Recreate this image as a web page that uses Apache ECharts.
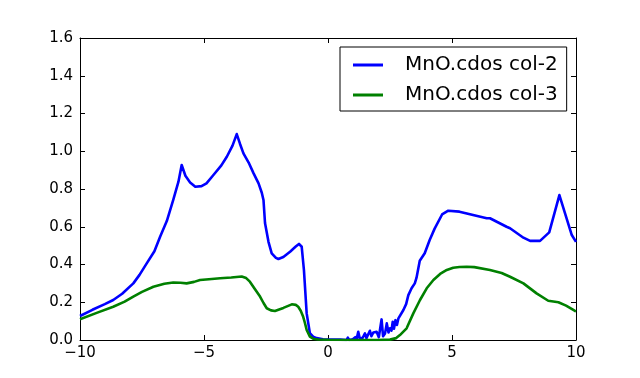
<!DOCTYPE html>
<html>
<head>
<meta charset="utf-8">
<script src="https://cdn.jsdelivr.net/npm/echarts@6/dist/echarts.min.js"></script>
<style>html,body{margin:0;padding:0;background:#fff;}#c{width:640px;height:378px;}</style>
</head>
<body>
<div id="c"></div>
<script>
var seriesNames = ['MnO.cdos col-2', 'MnO.cdos col-3'];
var xTicks = [-10, -5, 0, 5, 10];
var yTicks = [0, 0.2, 0.4, 0.6, 0.8, 1.0, 1.2, 1.4, 1.6];

var col2X = [-10, -9.5, -9, -8.66, -8.3, -7.85, -7.6, -7.31, -7.0, -6.77, -6.5, -6.24, -6.03, -5.9, -5.75, -5.56, -5.35, -5.1, -4.9, -4.62, -4.3, -4.08, -3.85, -3.68, -3.55, -3.41, -3.2, -3.0, -2.8, -2.67, -2.6, -2.54, -2.4, -2.27, -2.1, -2.0, -1.8, -1.53, -1.3, -1.17, -1.06, -0.97, -0.86, -0.73, -0.6, -0.46, -0.2, 0.0, 0.5, 0.75, 0.8, 0.85, 1.0, 1.1, 1.15, 1.22, 1.28, 1.4, 1.49, 1.55, 1.69, 1.75, 1.83, 1.96, 2.05, 2.16, 2.22, 2.3, 2.37, 2.44, 2.5, 2.56, 2.61, 2.66, 2.72, 2.78, 2.84, 2.9, 3.04, 3.15, 3.24, 3.37, 3.5, 3.57, 3.7, 3.9, 4.1, 4.3, 4.6, 4.85, 5.3, 5.85, 6.4, 6.53, 7.2, 7.34, 7.88, 8.15, 8.55, 8.92, 9.33, 9.83, 10];
var col2Y = [0.127, 0.16, 0.19, 0.212, 0.245, 0.30, 0.345, 0.406, 0.47, 0.547, 0.63, 0.742, 0.839, 0.927, 0.87, 0.835, 0.812, 0.815, 0.83, 0.874, 0.925, 0.971, 1.03, 1.091, 1.04, 0.989, 0.94, 0.883, 0.83, 0.78, 0.74, 0.62, 0.52, 0.459, 0.435, 0.429, 0.44, 0.468, 0.495, 0.509, 0.494, 0.37, 0.141, 0.036, 0.018, 0.01, 0.004, 0.002, 0.002, 0.0, 0.012, 0.0, 0.004, 0.015, 0.002, 0.044, 0.008, 0.012, 0.035, 0.01, 0.049, 0.02, 0.04, 0.044, 0.015, 0.109, 0.02, 0.035, 0.088, 0.04, 0.062, 0.05, 0.097, 0.06, 0.105, 0.08, 0.115, 0.11, 0.159, 0.19, 0.238, 0.274, 0.3, 0.33, 0.42, 0.46, 0.53, 0.59, 0.665, 0.685, 0.68, 0.662, 0.645, 0.645, 0.60, 0.592, 0.542, 0.525, 0.525, 0.57, 0.768, 0.556, 0.52];

var col3X = [-10, -9.3, -8.66, -8.2, -7.85, -7.5, -7.04, -6.6, -6.24, -5.95, -5.7, -5.4, -5.16, -4.8, -4.35, -3.9, -3.48, -3.3, -3.15, -2.95, -2.74, -2.6, -2.47, -2.3, -2.14, -1.8, -1.46, -1.3, -1.2, -1.1, -1.0, -0.93, -0.86, -0.73, -0.6, -0.4, 0.0, 1.0, 2.0, 2.5, 2.75, 2.9, 3.17, 3.44, 3.71, 3.98, 4.25, 4.52, 4.79, 5.05, 5.3, 5.59, 5.9, 6.53, 7.0, 7.34, 7.88, 8.41, 8.88, 9.29, 9.6, 9.96, 10];
var col3Y = [0.11, 0.145, 0.176, 0.203, 0.23, 0.255, 0.282, 0.298, 0.305, 0.303, 0.30, 0.308, 0.318, 0.322, 0.327, 0.331, 0.336, 0.328, 0.309, 0.27, 0.23, 0.196, 0.168, 0.157, 0.154, 0.17, 0.189, 0.186, 0.176, 0.155, 0.123, 0.09, 0.053, 0.018, 0.007, 0.003, 0.001, 0.0, 0.0, 0.002, 0.01, 0.026, 0.062, 0.141, 0.212, 0.274, 0.318, 0.35, 0.371, 0.383, 0.387, 0.388, 0.386, 0.371, 0.355, 0.335, 0.30, 0.247, 0.208, 0.2, 0.182, 0.154, 0.152];

function pairs(xs, ys) { return xs.map(function (x, i) { return [x, ys[i]]; }); }
function minusFmt(v) { return String(v).replace('-', '\u2212'); }

var chart = echarts.init(document.getElementById('c'), null, { renderer: 'canvas' });
var font = 'DejaVu Sans';
var axisCommon = {
  axisLine: { show: true, onZero: false, lineStyle: { color: '#000', width: 1 } },
  axisTick: { show: true, inside: true, length: 5, lineStyle: { color: '#000', width: 1 } },
  splitLine: { show: false }
};
chart.setOption({
  animation: false,
  backgroundColor: '#fff',
  grid: { left: 80, right: 64, top: 38, bottom: 38, containLabel: false },
  xAxis: [
    Object.assign({
      type: 'value', min: xTicks[0], max: xTicks[xTicks.length - 1], interval: 5, position: 'bottom',
      axisLabel: { color: '#000', fontFamily: font, fontSize: 15, margin: 6, formatter: minusFmt }
    }, axisCommon),
    Object.assign({
      type: 'value', min: xTicks[0], max: xTicks[xTicks.length - 1], interval: 5, position: 'top',
      axisLabel: { show: false }
    }, axisCommon)
  ],
  yAxis: [
    Object.assign({
      type: 'value', min: yTicks[0], max: yTicks[yTicks.length - 1], interval: 0.2, position: 'left',
      axisLabel: { color: '#000', fontFamily: font, fontSize: 15, margin: 7, formatter: function (v) { return v.toFixed(1); } }
    }, axisCommon),
    Object.assign({
      type: 'value', min: yTicks[0], max: yTicks[yTicks.length - 1], interval: 0.2, position: 'right',
      axisLabel: { show: false }
    }, axisCommon)
  ],
  legend: {
    left: 340, top: 47,
    orient: 'vertical',
    backgroundColor: '#fff',
    borderColor: '#000', borderWidth: 1, borderRadius: 0,
    padding: [8, 9, 6, 13],
    itemGap: 10,
    itemWidth: 30, itemHeight: 3,
    icon: 'rect',
    textStyle: { fontFamily: font, fontSize: 20, color: '#000', padding: [0, 0, 0, 17] },
    data: seriesNames
  },
  series: [
    {
      name: seriesNames[0], type: 'line', xAxisIndex: 0, yAxisIndex: 0,
      data: pairs(col2X, col2Y), showSymbol: false, symbol: 'none',
      lineStyle: { color: '#0000ff', width: 2.6, join: 'round' }, itemStyle: { color: '#0000ff' }, z: 2
    },
    {
      name: seriesNames[1], type: 'line', xAxisIndex: 0, yAxisIndex: 0,
      data: pairs(col3X, col3Y), showSymbol: false, symbol: 'none',
      lineStyle: { color: '#008000', width: 2.6, join: 'round' }, itemStyle: { color: '#008000' }, z: 3
    }
  ]
});
</script>
</body>
</html>
